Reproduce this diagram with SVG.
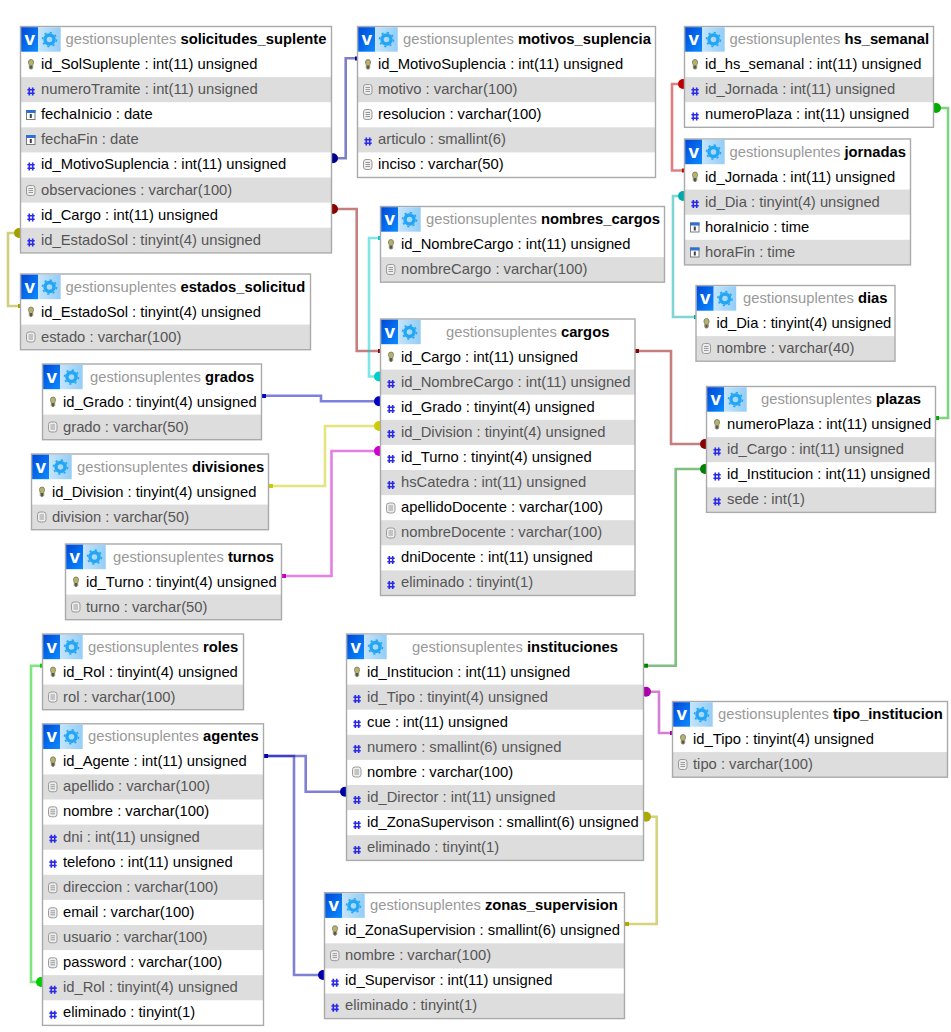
<svg xmlns="http://www.w3.org/2000/svg" width="951" height="1032" viewBox="0 0 951 1032">
<style>
text{font-family:"Liberation Sans",Arial,sans-serif;font-size:14.78px;fill:#000}
.g{fill:#555}
.ti{fill:#999}
.tb{font-weight:bold;fill:#000}
.bg{fill:#fff}
.alt{fill:#ddd}
.bd{fill:none;stroke:#aaa;stroke-width:1.4}
.l{fill:none;stroke:currentColor;stroke-opacity:.5;stroke-width:2.6}
.d{fill:currentColor}
.v{font-size:19px;font-weight:bold;fill:#fff;text-anchor:middle}
</style>
<defs>
<linearGradient id="gv" x1="0" y1="0" x2="1" y2="1"><stop offset="0" stop-color="#0048d8"/><stop offset="1" stop-color="#0a8cff"/></linearGradient>
<linearGradient id="gs" x1="0" y1="0" x2="1" y2="0"><stop offset="0" stop-color="#c4e4fb"/><stop offset="1" stop-color="#93cdf7"/></linearGradient>
<g id="hd">
<rect x="0.7" y="0.7" width="17" height="24.5" fill="url(#gv)"/>
<rect x="17.7" y="0.7" width="22.500" height="24.500" fill="url(#gs)"/>
<text class="v" x="9.200" y="18.500">v</text>
<circle cx="29" cy="13" r="4.500" fill="none" stroke="#22a6f5" stroke-width="3.400"/>
<circle cx="29" cy="13" r="7" fill="none" stroke="#22a6f5" stroke-width="1.600" stroke-dasharray="2.200 3.300"/>
</g>
<g id="k"><path d="M3.500 5.500a2.500 2.500 0 0 1 5 0c.3 1.500-.8 2-.8 3.500v2.500l-.8 1h-1.800l-.8-1v-2.500c0-1.500-1.100-2-.8-3.500z" fill="#b5b26a" stroke="#77735a" stroke-width=".8"/><rect x="5" y="9" width="2" height="3" fill="#555"/></g>
<g id="h"><path d="M4.300 6v8M7.700 6v8M2.400 8.300h7.300M2.400 11.700h7.300" fill="none" stroke="#2a2ae8" stroke-width="1.600"/></g>
<g id="c"><rect x="1.500" y="4" width="8.500" height="9" fill="#fff" stroke="#7a7a7a"/><rect x="1" y="3.500" width="9.500" height="3" fill="#2f6fd6"/><rect x="4.800" y="7.500" width="2" height="4" fill="#444"/></g>
<g id="t"><rect x="1.500" y="3" width="8.500" height="10" rx="2.500" fill="#eee" stroke="#999"/><path d="M3.500 6h4.500M3.500 8h4.500M3.500 10h4.500" stroke="#999"/></g>
</defs>
<rect width="951" height="1032" fill="#fff"/>
<g id="connectors">
<g style="color:#000090"><path class="l" d="M332 158.300H345.700V58.300H357"/><circle class="d" cx="333" cy="158.300" r="5"/><rect class="d" x="355" y="56.500" width="3" height="4"/></g>
<g style="color:#8b0000"><path class="l" d="M332 209H356.700V351H380"/><circle class="d" cx="333" cy="209" r="5"/><rect class="d" x="378" y="349" width="3" height="4"/></g>
<g style="color:#a0a000"><path class="l" d="M20 233H8V306H20"/><circle class="d" cx="19" cy="233" r="5"/><rect class="d" x="18" y="304" width="3" height="4"/></g>
<g style="color:#00cccc"><path class="l" d="M380 238H369V376.500H380"/><circle class="d" cx="379" cy="376.500" r="5"/><rect class="d" x="378" y="236" width="3" height="4"/></g>
<g style="color:#c00000"><path class="l" d="M684 84H672V170.500H684"/><circle class="d" cx="683" cy="84" r="5"/><rect class="d" x="682" y="168.500" width="3" height="4"/></g>
<g style="color:#00aaaa"><path class="l" d="M684 196H673V317H696"/><circle class="d" cx="683" cy="196" r="5"/><rect class="d" x="694" y="315" width="3" height="4"/></g>
<g style="color:#00aa00"><path class="l" d="M934 108H948V418H935"/><circle class="d" cx="936" cy="108" r="5"/><rect class="d" x="935" y="416" width="4" height="4"/></g>
<g style="color:#8b0000"><path class="l" d="M635 351H671V444H706"/><rect class="d" x="635" y="349" width="4" height="4"/><circle class="d" cx="705" cy="444" r="5"/></g>
<g style="color:#008000"><path class="l" d="M645 665.700H675.700V469H706"/><rect class="d" x="644" y="663.700" width="4" height="4"/><circle class="d" cx="705" cy="469" r="5"/></g>
<g style="color:#0000c0"><path class="l" d="M263 395.700H321V401.300H380"/><rect class="d" x="262" y="394" width="4" height="4"/><circle class="d" cx="379" cy="401.300" r="5"/></g>
<g style="color:#cccc00"><path class="l" d="M270 486H325V426H380"/><rect class="d" x="269" y="484" width="4" height="4"/><circle class="d" cx="379" cy="426" r="5"/></g>
<g style="color:#cc00cc"><path class="l" d="M283 576H331.500V451H380"/><rect class="d" x="282" y="574" width="4" height="4"/><circle class="d" cx="379" cy="451" r="5"/></g>
<g style="color:#0000aa"><path class="l" d="M265 756H294V975H324"/><path class="l" d="M265 756H305.700V791.700H346"/><rect class="d" x="264" y="754" width="4" height="4"/><circle class="d" cx="323" cy="975" r="5"/><circle class="d" cx="345" cy="791.700" r="5"/></g>
<g style="color:#00cc00"><path class="l" d="M42 665.700H31V982H42"/><circle class="d" cx="41" cy="982" r="5"/><rect class="d" x="40" y="663.700" width="3" height="4"/></g>
<g style="color:#aa00aa"><path class="l" d="M645 691.700H659V733H672"/><circle class="d" cx="646" cy="691.700" r="5"/><rect class="d" x="670" y="731" width="3" height="4"/></g>
<g style="color:#aaaa00"><path class="l" d="M645 816.700H656.700V924H625"/><circle class="d" cx="646" cy="816.700" r="5"/><rect class="d" x="625" y="922" width="4" height="4"/></g>
</g>

<g id="solicitudes_suplente" transform="translate(20.500 26.500)">
<rect class="bg" width="311" height="226.400"/>
<rect class="alt" y="50.600" width="311" height="25.100"/><rect class="alt" y="100.800" width="311" height="25.100"/><rect class="alt" y="151" width="311" height="25.100"/><rect class="alt" y="201.200" width="311" height="25.100"/>
<rect class="bd" width="311" height="226.400"/><use href="#hd"/>
<text x="45" y="17.500"><tspan class="ti">gestionsuplentes </tspan><tspan class="tb">solicitudes_suplente</tspan></text>
<use href="#k" x="4.500" y="30"/><text x="20.500" y="42.500">id_SolSuplente : int(11) unsigned</text>
<use href="#h" x="4.500" y="55"/><text class="g" x="20.500" y="67.600">numeroTramite : int(11) unsigned</text>
<use href="#c" x="4.500" y="80"/><text x="20.500" y="92.700">fechaInicio : date</text>
<use href="#c" x="4.500" y="105"/><text class="g" x="20.500" y="117.800">fechaFin : date</text>
<use href="#h" x="4.500" y="130"/><text x="20.500" y="142.900">id_MotivoSuplencia : int(11) unsigned</text>
<use href="#t" x="4.500" y="156"/><text class="g" x="20.500" y="168">observaciones : varchar(100)</text>
<use href="#h" x="4.500" y="181"/><text x="20.500" y="193.100">id_Cargo : int(11) unsigned</text>
<use href="#h" x="4.500" y="206"/><text class="g" x="20.500" y="218.200">id_EstadoSol : tinyint(4) unsigned</text>
</g>

<g id="estados_solicitud" transform="translate(20.500 274)">
<rect class="bg" width="290" height="75.700"/><rect class="alt" y="50.600" width="290" height="25.100"/>
<rect class="bd" width="290" height="75.700"/><use href="#hd"/>
<text x="45" y="17.500"><tspan class="ti">gestionsuplentes </tspan><tspan class="tb">estados_solicitud</tspan></text>
<use href="#k" x="4.500" y="30"/><text x="20.500" y="42.500">id_EstadoSol : tinyint(4) unsigned</text>
<use href="#t" x="4.500" y="55"/><text class="g" x="20.500" y="67.600">estado : varchar(100)</text>
</g>

<g id="motivos_suplencia" transform="translate(357.500 26.500)">
<rect class="bg" width="298" height="151"/><rect class="alt" y="50.600" width="298" height="25.100"/><rect class="alt" y="100.800" width="298" height="25.100"/>
<rect class="bd" width="298" height="151"/><use href="#hd"/>
<text x="45.500" y="17.500"><tspan class="ti">gestionsuplentes </tspan><tspan class="tb">motivos_suplencia</tspan></text>
<use href="#k" x="4.500" y="30"/><text x="20.500" y="42.500">id_MotivoSuplencia : int(11) unsigned</text>
<use href="#t" x="4.500" y="55"/><text class="g" x="20.500" y="67.600">motivo : varchar(100)</text>
<use href="#t" x="4.500" y="80"/><text x="20.500" y="92.700">resolucion : varchar(100)</text>
<use href="#h" x="4.500" y="105"/><text class="g" x="20.500" y="117.800">articulo : smallint(6)</text>
<use href="#t" x="4.500" y="130"/><text x="20.500" y="142.900">inciso : varchar(50)</text>
</g>

<g id="hs_semanal" transform="translate(684.500 26.500)">
<rect class="bg" width="249" height="100.800"/><rect class="alt" y="50.600" width="249" height="25.100"/>
<rect class="bd" width="249" height="100.800"/><use href="#hd"/>
<text x="45" y="17.500"><tspan class="ti">gestionsuplentes </tspan><tspan class="tb">hs_semanal</tspan></text>
<use href="#k" x="4.500" y="30"/><text x="20.500" y="42.500">id_hs_semanal : int(11) unsigned</text>
<use href="#h" x="4.500" y="55"/><text class="g" x="20.500" y="67.600">id_Jornada : int(11) unsigned</text>
<use href="#h" x="4.500" y="80"/><text x="20.500" y="92.700">numeroPlaza : int(11) unsigned</text>
</g>

<g id="jornadas" transform="translate(684.500 139)">
<rect class="bg" width="226" height="125.900"/><rect class="alt" y="50.600" width="226" height="25.100"/><rect class="alt" y="100.800" width="226" height="25.100"/>
<rect class="bd" width="226" height="125.900"/><use href="#hd"/>
<text x="45" y="17.500"><tspan class="ti">gestionsuplentes </tspan><tspan class="tb">jornadas</tspan></text>
<use href="#k" x="4.500" y="30"/><text x="20.500" y="42.500">id_Jornada : int(11) unsigned</text>
<use href="#h" x="4.500" y="55"/><text class="g" x="20.500" y="67.600">id_Dia : tinyint(4) unsigned</text>
<use href="#c" x="4.500" y="80"/><text x="20.500" y="92.700">horaInicio : time</text>
<use href="#c" x="4.500" y="105"/><text class="g" x="20.500" y="117.800">horaFin : time</text>
</g>

<g id="nombres_cargos" transform="translate(380.500 206.500)">
<rect class="bg" width="284" height="75.700"/><rect class="alt" y="50.600" width="284" height="25.100"/>
<rect class="bd" width="284" height="75.700"/><use href="#hd"/>
<text x="45.500" y="17.500"><tspan class="ti">gestionsuplentes </tspan><tspan class="tb">nombres_cargos</tspan></text>
<use href="#k" x="4.500" y="30"/><text x="20.500" y="42.500">id_NombreCargo : int(11) unsigned</text>
<use href="#t" x="4.500" y="55"/><text class="g" x="20.500" y="67.600">nombreCargo : varchar(100)</text>
</g>

<g id="cargos" transform="translate(380.500 319)">
<rect class="bg" width="254.500" height="276.500"/><rect class="alt" y="50.600" width="254.500" height="25.100"/><rect class="alt" y="100.800" width="254.500" height="25.100"/><rect class="alt" y="151" width="254.500" height="25.100"/><rect class="alt" y="201.200" width="254.500" height="25.100"/><rect class="alt" y="251.400" width="254.500" height="25.100"/>
<rect class="bd" width="254.500" height="276.500"/><use href="#hd"/>
<text x="65.500" y="17.500"><tspan class="ti">gestionsuplentes </tspan><tspan class="tb">cargos</tspan></text>
<use href="#k" x="4.500" y="30"/><text x="20.500" y="42.500">id_Cargo : int(11) unsigned</text>
<use href="#h" x="4.500" y="55"/><text class="g" x="20.500" y="67.600">id_NombreCargo : int(11) unsigned</text>
<use href="#h" x="4.500" y="80"/><text x="20.500" y="92.700">id_Grado : tinyint(4) unsigned</text>
<use href="#h" x="4.500" y="105"/><text class="g" x="20.500" y="117.800">id_Division : tinyint(4) unsigned</text>
<use href="#h" x="4.500" y="130"/><text x="20.500" y="142.900">id_Turno : tinyint(4) unsigned</text>
<use href="#h" x="4.500" y="156"/><text class="g" x="20.500" y="168">hsCatedra : int(11) unsigned</text>
<use href="#t" x="4.500" y="181"/><text x="20.500" y="193.100">apellidoDocente : varchar(100)</text>
<use href="#t" x="4.500" y="206"/><text class="g" x="20.500" y="218.200">nombreDocente : varchar(100)</text>
<use href="#h" x="4.500" y="231"/><text x="20.500" y="243.300">dniDocente : int(11) unsigned</text>
<use href="#h" x="4.500" y="256"/><text class="g" x="20.500" y="268.400">eliminado : tinyint(1)</text>
</g>

<g id="dias" transform="translate(696 285.500)">
<rect class="bg" width="199" height="75.700"/><rect class="alt" y="50.600" width="199" height="25.100"/>
<rect class="bd" width="199" height="75.700"/><use href="#hd"/>
<text x="47" y="17.500"><tspan class="ti">gestionsuplentes </tspan><tspan class="tb">dias</tspan></text>
<use href="#k" x="4.500" y="30"/><text x="20.500" y="42.500">id_Dia : tinyint(4) unsigned</text>
<use href="#t" x="4.500" y="55"/><text class="g" x="20.500" y="67.600">nombre : varchar(40)</text>
</g>

<g id="plazas" transform="translate(706.500 386.500)">
<rect class="bg" width="229" height="125.900"/><rect class="alt" y="50.600" width="229" height="25.100"/><rect class="alt" y="100.800" width="229" height="25.100"/>
<rect class="bd" width="229" height="125.900"/><use href="#hd"/>
<text x="54.500" y="17.500"><tspan class="ti">gestionsuplentes </tspan><tspan class="tb">plazas</tspan></text>
<use href="#k" x="4.500" y="30"/><text x="20.500" y="42.500">numeroPlaza : int(11) unsigned</text>
<use href="#h" x="4.500" y="55"/><text class="g" x="20.500" y="67.600">id_Cargo : int(11) unsigned</text>
<use href="#h" x="4.500" y="80"/><text x="20.500" y="92.700">id_Institucion : int(11) unsigned</text>
<use href="#h" x="4.500" y="105"/><text class="g" x="20.500" y="117.800">sede : int(1)</text>
</g>

<g id="grados" transform="translate(42.500 364)">
<rect class="bg" width="219" height="75.700"/><rect class="alt" y="50.600" width="219" height="25.100"/>
<rect class="bd" width="219" height="75.700"/><use href="#hd"/>
<text x="47.500" y="17.500"><tspan class="ti">gestionsuplentes </tspan><tspan class="tb">grados</tspan></text>
<use href="#k" x="4.500" y="30"/><text x="20.500" y="42.500">id_Grado : tinyint(4) unsigned</text>
<use href="#t" x="4.500" y="55"/><text class="g" x="20.500" y="67.600">grado : varchar(50)</text>
</g>

<g id="divisiones" transform="translate(31.500 454)">
<rect class="bg" width="237" height="75.700"/><rect class="alt" y="50.600" width="237" height="25.100"/>
<rect class="bd" width="237" height="75.700"/><use href="#hd"/>
<text x="45.500" y="17.500"><tspan class="ti">gestionsuplentes </tspan><tspan class="tb">divisiones</tspan></text>
<use href="#k" x="4.500" y="30"/><text x="20.500" y="42.500">id_Division : tinyint(4) unsigned</text>
<use href="#t" x="4.500" y="55"/><text class="g" x="20.500" y="67.600">division : varchar(50)</text>
</g>

<g id="turnos" transform="translate(65.500 544)">
<rect class="bg" width="216" height="75.700"/><rect class="alt" y="50.600" width="216" height="25.100"/>
<rect class="bd" width="216" height="75.700"/><use href="#hd"/>
<text x="47.500" y="17.500"><tspan class="ti">gestionsuplentes </tspan><tspan class="tb">turnos</tspan></text>
<use href="#k" x="4.500" y="30"/><text x="20.500" y="42.500">id_Turno : tinyint(4) unsigned</text>
<use href="#t" x="4.500" y="55"/><text class="g" x="20.500" y="67.600">turno : varchar(50)</text>
</g>

<g id="roles" transform="translate(42.500 634)">
<rect class="bg" width="201" height="75.700"/><rect class="alt" y="50.600" width="201" height="25.100"/>
<rect class="bd" width="201" height="75.700"/><use href="#hd"/>
<text x="45.500" y="17.500"><tspan class="ti">gestionsuplentes </tspan><tspan class="tb">roles</tspan></text>
<use href="#k" x="4.500" y="30"/><text x="20.500" y="42.500">id_Rol : tinyint(4) unsigned</text>
<use href="#t" x="4.500" y="55"/><text class="g" x="20.500" y="67.600">rol : varchar(100)</text>
</g>

<g id="agentes" transform="translate(42.500 723.800)">
<rect class="bg" width="221" height="301.600"/><rect class="alt" y="50.600" width="221" height="25.100"/><rect class="alt" y="100.800" width="221" height="25.100"/><rect class="alt" y="151" width="221" height="25.100"/><rect class="alt" y="201.200" width="221" height="25.100"/><rect class="alt" y="251.400" width="221" height="25.100"/>
<rect class="bd" width="221" height="301.600"/><use href="#hd"/>
<text x="45.500" y="17.500"><tspan class="ti">gestionsuplentes </tspan><tspan class="tb">agentes</tspan></text>
<use href="#k" x="4.500" y="30"/><text x="20.500" y="42.500">id_Agente : int(11) unsigned</text>
<use href="#t" x="4.500" y="55"/><text class="g" x="20.500" y="67.600">apellido : varchar(100)</text>
<use href="#t" x="4.500" y="80"/><text x="20.500" y="92.700">nombre : varchar(100)</text>
<use href="#h" x="4.500" y="105"/><text class="g" x="20.500" y="117.800">dni : int(11) unsigned</text>
<use href="#h" x="4.500" y="130"/><text x="20.500" y="142.900">telefono : int(11) unsigned</text>
<use href="#t" x="4.500" y="156"/><text class="g" x="20.500" y="168">direccion : varchar(100)</text>
<use href="#t" x="4.500" y="181"/><text x="20.500" y="193.100">email : varchar(100)</text>
<use href="#t" x="4.500" y="206"/><text class="g" x="20.500" y="218.200">usuario : varchar(100)</text>
<use href="#t" x="4.500" y="231"/><text x="20.500" y="243.300">password : varchar(100)</text>
<use href="#h" x="4.500" y="256"/><text class="g" x="20.500" y="268.400">id_Rol : tinyint(4) unsigned</text>
<use href="#h" x="4.500" y="281"/><text x="20.500" y="293.400">eliminado : tinyint(1)</text>
</g>

<g id="instituciones" transform="translate(346.500 634)">
<rect class="bg" width="297" height="226.400"/><rect class="alt" y="50.600" width="297" height="25.100"/><rect class="alt" y="100.800" width="297" height="25.100"/><rect class="alt" y="151" width="297" height="25.100"/><rect class="alt" y="201.200" width="297" height="25.100"/>
<rect class="bd" width="297" height="226.400"/><use href="#hd"/>
<text x="65.500" y="17.500"><tspan class="ti">gestionsuplentes </tspan><tspan class="tb">instituciones</tspan></text>
<use href="#k" x="4.500" y="30"/><text x="20.500" y="42.500">id_Institucion : int(11) unsigned</text>
<use href="#h" x="4.500" y="55"/><text class="g" x="20.500" y="67.600">id_Tipo : tinyint(4) unsigned</text>
<use href="#h" x="4.500" y="80"/><text x="20.500" y="92.700">cue : int(11) unsigned</text>
<use href="#h" x="4.500" y="105"/><text class="g" x="20.500" y="117.800">numero : smallint(6) unsigned</text>
<use href="#t" x="4.500" y="130"/><text x="20.500" y="142.900">nombre : varchar(100)</text>
<use href="#h" x="4.500" y="156"/><text class="g" x="20.500" y="168">id_Director : int(11) unsigned</text>
<use href="#h" x="4.500" y="181"/><text x="20.500" y="193.100">id_ZonaSupervison : smallint(6) unsigned</text>
<use href="#h" x="4.500" y="206"/><text class="g" x="20.500" y="218.200">eliminado : tinyint(1)</text>
</g>

<g id="tipo_institucion" transform="translate(672.500 701.500)">
<rect class="bg" width="275" height="75.700"/><rect class="alt" y="50.600" width="275" height="25.100"/>
<rect class="bd" width="275" height="75.700"/><use href="#hd"/>
<text x="45.500" y="17.500"><tspan class="ti">gestionsuplentes </tspan><tspan class="tb">tipo_institucion</tspan></text>
<use href="#k" x="4.500" y="30"/><text x="20.500" y="42.500">id_Tipo : tinyint(4) unsigned</text>
<use href="#t" x="4.500" y="55"/><text class="g" x="20.500" y="67.600">tipo : varchar(100)</text>
</g>

<g id="zonas_supervision" transform="translate(324.500 892.700)">
<rect class="bg" width="300" height="125.900"/><rect class="alt" y="50.600" width="300" height="25.100"/><rect class="alt" y="100.800" width="300" height="25.100"/>
<rect class="bd" width="300" height="125.900"/><use href="#hd"/>
<text x="45.500" y="17.500"><tspan class="ti">gestionsuplentes </tspan><tspan class="tb">zonas_supervision</tspan></text>
<use href="#k" x="4.500" y="30"/><text x="20.500" y="42.500">id_ZonaSupervision : smallint(6) unsigned</text>
<use href="#t" x="4.500" y="55"/><text class="g" x="20.500" y="67.600">nombre : varchar(100)</text>
<use href="#h" x="4.500" y="80"/><text x="20.500" y="92.700">id_Supervisor : int(11) unsigned</text>
<use href="#h" x="4.500" y="105"/><text class="g" x="20.500" y="117.800">eliminado : tinyint(1)</text>
</g>
</svg>
